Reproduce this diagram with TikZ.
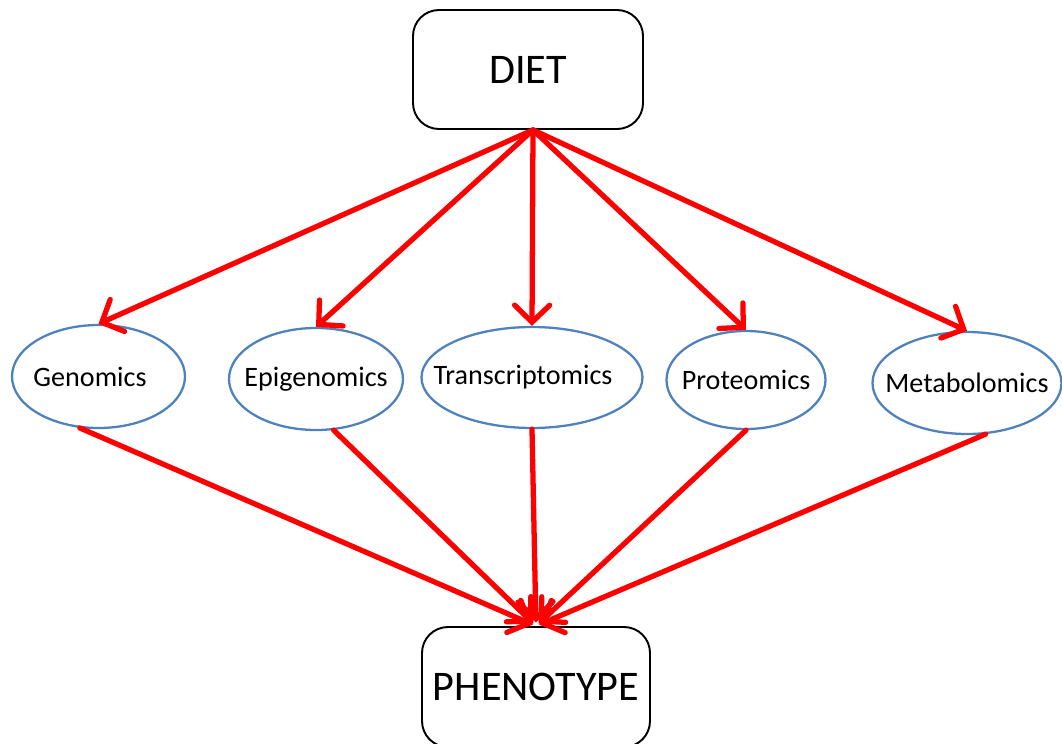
\documentclass[tikz,border=0pt]{standalone}
\usepackage{fontspec}
\setmainfont{Carlito}
\usetikzlibrary{arrows.meta,shapes.geometric,positioning}
\definecolor{omicblue}{RGB}{79,129,189}
\newcommand{\ctext}[2][0pt]{\makebox[0pt]{#2\kern#1}}

\begin{document}
\begin{tikzpicture}[
    box/.style={rectangle, rounded corners=0.52cm, draw=black, line width=1.1pt, fill=white, minimum width=4.6cm, minimum height=2.38cm, font=\fontsize{24}{28}\selectfont},
    omic/.style={ellipse, draw=omicblue, line width=1.3pt, fill=white, inner sep=0pt, font=\fontsize{16}{19}\selectfont},
    arrow/.style={-{Straight Barb[length=3.4mm,width=7mm,line cap=round]}, red, line width=3pt, line cap=round}
]
\useasboundingbox (0,0) rectangle (21.24,-14.86);

\node[box] (diet) at (10.56,-1.39) {DIET};
\node[box, minimum width=4.56cm, minimum height=2.4cm] (pheno) at (10.72,-13.74) {PHENOTYPE};

\node[omic, minimum width=3.46cm, minimum height=2.06cm] (gen) at (1.97,-7.53) {\ctext[0.34cm]{Genomics}};
\node[omic, minimum width=3.48cm, minimum height=2.04cm] (epi) at (6.32,-7.58) {\ctext{Epigenomics}};
\node[omic, minimum width=4.42cm, minimum height=2.02cm] (trans) at (10.64,-7.55) {\ctext[0.36cm]{Transcriptomics}};
\node[omic, minimum width=3.18cm, minimum height=1.96cm] (prot) at (14.92,-7.60) {\ctext{Proteomics}};
\node[omic, minimum width=3.78cm, minimum height=2.04cm] (meta) at (19.34,-7.66) {\ctext{Metabolomics}};

\draw[arrow] ([xshift=0.1cm]diet.south) -- (gen.north);
\draw[arrow] ([xshift=0.1cm]diet.south) -- (epi.north);
\draw[arrow] ([xshift=0.1cm]diet.south) -- (trans.north);
\draw[arrow] ([xshift=0.1cm]diet.south) -- (prot.north);
\draw[arrow] ([xshift=0.1cm]diet.south) -- (meta.north);

\draw[arrow, shorten >=2pt] (gen.250) -- (pheno.north);
\draw[arrow, shorten >=2pt] (epi.-71) -- (pheno.north);
\draw[arrow, shorten >=2pt] (trans.south) -- (pheno.north);
\draw[arrow, shorten >=2pt] (prot.south) -- (pheno.north);
\draw[arrow, shorten >=2pt] (meta.-70) -- (pheno.north);

\end{tikzpicture}
\end{document}
